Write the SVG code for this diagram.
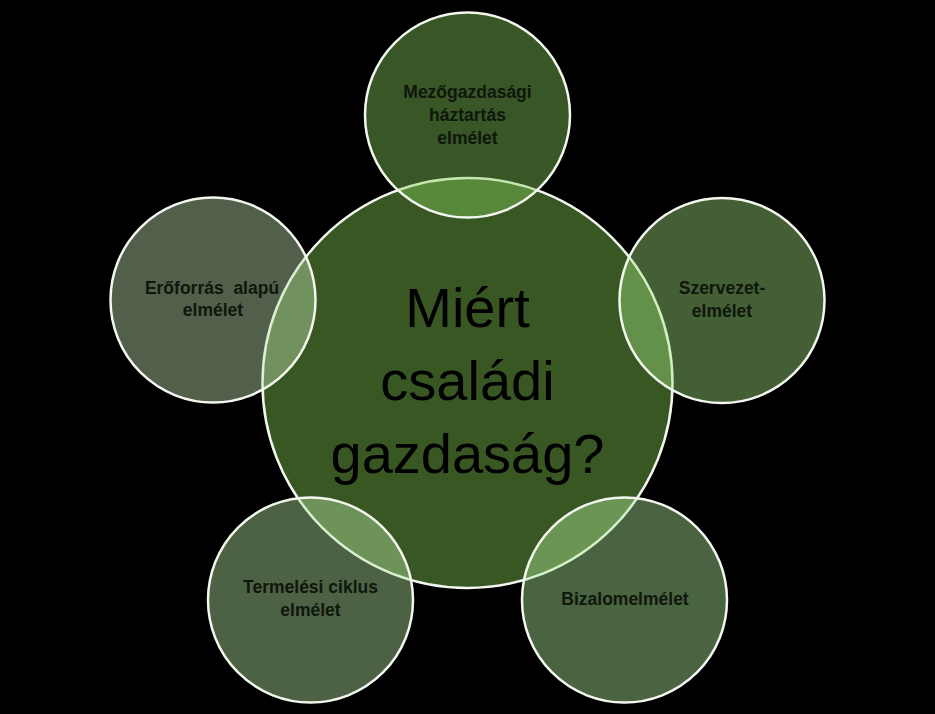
<svg xmlns="http://www.w3.org/2000/svg" width="935" height="714" viewBox="0 0 935 714">
<style>
.c{stroke:#f2f6ee;stroke-width:2.5}
.s{fill-opacity:0.42}
.lbl{font-family:"Liberation Sans",Arial,sans-serif;font-weight:bold;font-size:17.5px;fill:#0f170b;text-anchor:middle}
.big{font-family:"Liberation Sans",Arial,sans-serif;font-size:56px;fill:#000;text-anchor:middle}
</style>
<rect x="0" y="0" width="935" height="714" fill="#000"/>
<g id="center">
<circle class="c" cx="467.5" cy="383" r="205" fill="#385723"/>
<text class="big" x="467.5" y="327">Miért</text>
<text class="big" x="467.5" y="400">családi</text>
<text class="big" x="467.5" y="473">gazdaság?</text>
</g>
<g id="connectors"></g>
<g id="n-top">
<circle class="c s" cx="467.5" cy="115" r="102.5" fill="#85cd5a"/>
<text class="lbl" x="467.5" y="98">Mezőgazdasági</text>
<text class="lbl" x="467.5" y="121">háztartás</text>
<text class="lbl" x="467.5" y="144">elmélet</text>
</g>
<g id="n-right">
<circle class="c s" cx="722" cy="300.5" r="102.5" fill="#a2e27e"/>
<text class="lbl" x="722" y="294">Szervezet-</text>
<text class="lbl" x="722" y="317">elmélet</text>
</g>
<g id="n-bottomright">
<circle class="c s" cx="624.5" cy="600" r="102.5" fill="#b0eb98"/>
<text class="lbl" x="625" y="605">Bizalomelmélet</text>
</g>
<g id="n-bottomleft">
<circle class="c s" cx="310.5" cy="600" r="102.5" fill="#b7e7a4"/>
<text class="lbl" x="310.5" y="593">Termelési ciklus</text>
<text class="lbl" x="310.5" y="616">elmélet</text>
</g>
<g id="n-left">
<circle class="c s" cx="213" cy="300" r="102.5" fill="#c1e2b3"/>
<text class="lbl" x="212" y="294" xml:space="preserve">Erőforrás  alapú</text>
<text class="lbl" x="213" y="316">elmélet</text>
</g>
</svg>
